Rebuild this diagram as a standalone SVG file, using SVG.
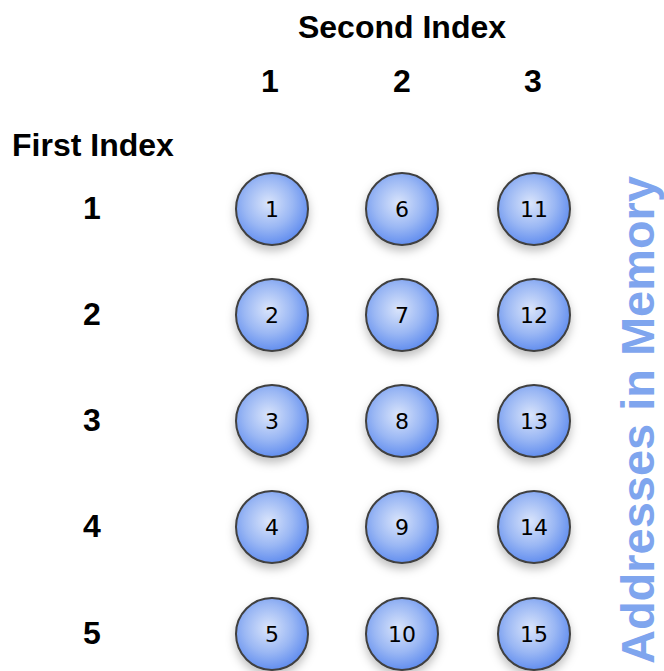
<svg xmlns="http://www.w3.org/2000/svg" width="664" height="671" viewBox="0 0 664 671">
<defs>
<radialGradient id="g" cx="0.45" cy="0.42" r="0.62">
<stop offset="0" stop-color="#d9e4fb"/>
<stop offset="0.55" stop-color="#9ab7f4"/>
<stop offset="1" stop-color="#5a88ee"/>
</radialGradient>
<filter id="sh" x="-40%" y="-40%" width="180%" height="190%">
<feDropShadow dx="0" dy="5" stdDeviation="5" flood-color="#000" flood-opacity="0.25"/>
</filter>
<style>
.h{font-family:"Liberation Sans",Arial,sans-serif;font-weight:bold;font-size:32px;fill:#000}
.c{fill:url(#g);stroke:#3f3f3f;stroke-width:2;filter:url(#sh)}
.n{font-family:"DejaVu Sans",sans-serif;font-size:22px;fill:#000;text-anchor:middle}
.v{font-family:"Liberation Sans",Arial,sans-serif;font-weight:bold;font-size:47px;fill:#7fa5ee}
</style>
</defs>
<rect width="664" height="671" fill="#fff"/>
<g id="labels">
<text class="h" x="402" y="38" text-anchor="middle">Second Index</text>
<text class="h" x="270" y="92" text-anchor="middle">1</text>
<text class="h" x="402" y="92" text-anchor="middle">2</text>
<text class="h" x="533" y="92" text-anchor="middle">3</text>
<text class="h" x="12" y="156">First Index</text>
<text class="h" x="92" y="219" text-anchor="middle">1</text>
<text class="h" x="92" y="325" text-anchor="middle">2</text>
<text class="h" x="92" y="431" text-anchor="middle">3</text>
<text class="h" x="92" y="537" text-anchor="middle">4</text>
<text class="h" x="92" y="644" text-anchor="middle">5</text>
<text class="v" transform="translate(654,420) rotate(-90)" text-anchor="middle" textLength="488" lengthAdjust="spacingAndGlyphs">Addresses in Memory</text>
</g>
<g id="connectors"/>
<g id="n1"><circle class="c" cx="272" cy="209" r="36"/><text class="n" x="272" y="217">1</text></g>
<g id="n2"><circle class="c" cx="272" cy="315" r="36"/><text class="n" x="272" y="323">2</text></g>
<g id="n3"><circle class="c" cx="272" cy="421" r="36"/><text class="n" x="272" y="429">3</text></g>
<g id="n4"><circle class="c" cx="272" cy="527" r="36"/><text class="n" x="272" y="535">4</text></g>
<g id="n5"><circle class="c" cx="272" cy="634" r="36"/><text class="n" x="272" y="642">5</text></g>
<g id="n6"><circle class="c" cx="402" cy="209" r="36"/><text class="n" x="402" y="217">6</text></g>
<g id="n7"><circle class="c" cx="402" cy="315" r="36"/><text class="n" x="402" y="323">7</text></g>
<g id="n8"><circle class="c" cx="402" cy="421" r="36"/><text class="n" x="402" y="429">8</text></g>
<g id="n9"><circle class="c" cx="402" cy="527" r="36"/><text class="n" x="402" y="535">9</text></g>
<g id="n10"><circle class="c" cx="402" cy="634" r="36"/><text class="n" x="402" y="642">10</text></g>
<g id="n11"><circle class="c" cx="534" cy="209" r="36"/><text class="n" x="534" y="217">11</text></g>
<g id="n12"><circle class="c" cx="534" cy="315" r="36"/><text class="n" x="534" y="323">12</text></g>
<g id="n13"><circle class="c" cx="534" cy="421" r="36"/><text class="n" x="534" y="429">13</text></g>
<g id="n14"><circle class="c" cx="534" cy="527" r="36"/><text class="n" x="534" y="535">14</text></g>
<g id="n15"><circle class="c" cx="534" cy="634" r="36"/><text class="n" x="534" y="642">15</text></g>
</svg>
